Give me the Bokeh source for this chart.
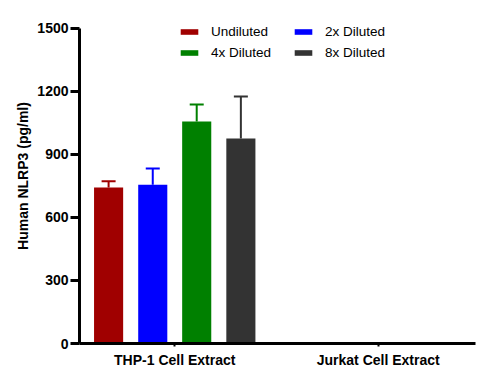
from bokeh.plotting import figure
from bokeh.models import (ColumnDataSource, Range1d, FixedTicker, Legend, LegendItem,
                          Whisker, TeeHead)
from bokeh.transform import dodge
from bokeh.embed import file_html
from bokeh.resources import INLINE

# ---- data ----
categories = ["THP-1 Cell Extract", "Jurkat Cell Extract"]
series = ["Undiluted", "2x Diluted", "4x Diluted", "8x Diluted"]
undiluted = [743, 0]
diluted_2x = [756, 0]
diluted_4x = [1057, 0]
diluted_8x = [976, 0]
err_undiluted = [30, 0]
err_2x = [77, 0]
err_4x = [81, 0]
err_8x = [200, 0]
y_ticks = [0, 300, 600, 900, 1200, 1500]

values = [undiluted, diluted_2x, diluted_4x, diluted_8x]
errors = [err_undiluted, err_2x, err_4x, err_8x]
colors = ["#A00000", "#0000FF", "#008000", "#333333"]
offsets = [-0.325, -0.108, 0.108, 0.325]

FONT = "Liberation Sans"

p = figure(width=483, height=384, output_backend="svg", toolbar_location=None,
           x_range=Range1d(-0.468, 1.478), y_range=Range1d(0, 1595),
           min_border_left=79, min_border_right=8, min_border_top=8, min_border_bottom=41)
p.outline_line_color = None
p.xgrid.visible = False
p.ygrid.visible = False
p.background_fill_color = "white"

idx = list(range(len(categories)))
renderers = []
for name, vals, errs, col, off in zip(series, values, errors, colors, offsets):
    src = ColumnDataSource(dict(x=idx, top=vals))
    r = p.vbar(x=dodge("x", off), top="top", width=0.143, source=src,
               fill_color=col, line_color=None)
    renderers.append((name, r))
    keep = [i for i, v in enumerate(vals) if v > 0]
    wsrc = ColumnDataSource(dict(x=[idx[i] for i in keep],
                                 lower=[vals[i] for i in keep],
                                 upper=[vals[i] + errs[i] for i in keep]))
    w = Whisker(base=dodge("x", off), lower="lower", upper="upper", source=wsrc,
                line_color=col, line_width=2, lower_head=None,
                upper_head=TeeHead(size=14, line_color=col, line_width=2))
    p.add_layout(w)

# axes
p.yaxis.ticker = FixedTicker(ticks=y_ticks)
p.yaxis.bounds = (0, 1500)
p.yaxis.axis_label = "Human NLRP3 (pg/ml)"
p.yaxis.axis_label_text_font = FONT
p.yaxis.axis_label_text_font_style = "bold"
p.yaxis.axis_label_text_font_size = "14px"
p.yaxis.axis_label_standoff = 3
p.yaxis.major_label_text_font = FONT
p.yaxis.major_label_text_font_style = "bold"
p.yaxis.major_label_text_font_size = "14px"
p.yaxis.major_label_standoff = 2
p.yaxis.major_tick_out = 9
p.yaxis.major_tick_in = 0
p.yaxis.minor_tick_line_color = None
p.yaxis.axis_line_width = 3
p.yaxis.major_tick_line_width = 3
p.yaxis.axis_line_color = "black"
p.yaxis.major_tick_line_color = "black"
p.yaxis.major_label_text_color = "black"
p.yaxis.axis_label_text_color = "black"

p.xaxis.ticker = FixedTicker(ticks=idx)
p.xaxis.major_label_overrides = {i: c for i, c in zip(idx, categories)}
p.xaxis.major_label_text_font = FONT
p.xaxis.major_label_text_font_style = "bold"
p.xaxis.major_label_text_font_size = "14px"
p.xaxis.major_label_text_color = "black"
p.xaxis.major_label_standoff = 5
p.xaxis.major_tick_out = 3
p.xaxis.major_tick_in = 0
p.xaxis.major_tick_line_width = 2
p.xaxis.minor_tick_line_color = None
p.xaxis.axis_line_width = 3
p.xaxis.axis_line_color = "black"

# legend: Bokeh fills columns first, so order items to read row-wise
rd = dict(renderers)
legend_order = [series[0], series[2], series[1], series[3]]
legend = Legend(items=[LegendItem(label=n, renderers=[rd[n]]) for n in legend_order],
                ncols=2, location=(99, 281), padding=0, margin=0, spacing=1,
                glyph_width=22, glyph_height=7, label_standoff=11,
                label_width=80, label_height=20,
                label_text_font=FONT, label_text_font_size="13.5px",
                label_text_color="black",
                border_line_color=None, background_fill_alpha=0)
p.add_layout(legend)

open("out.html", "w").write(file_html(p, INLINE))
